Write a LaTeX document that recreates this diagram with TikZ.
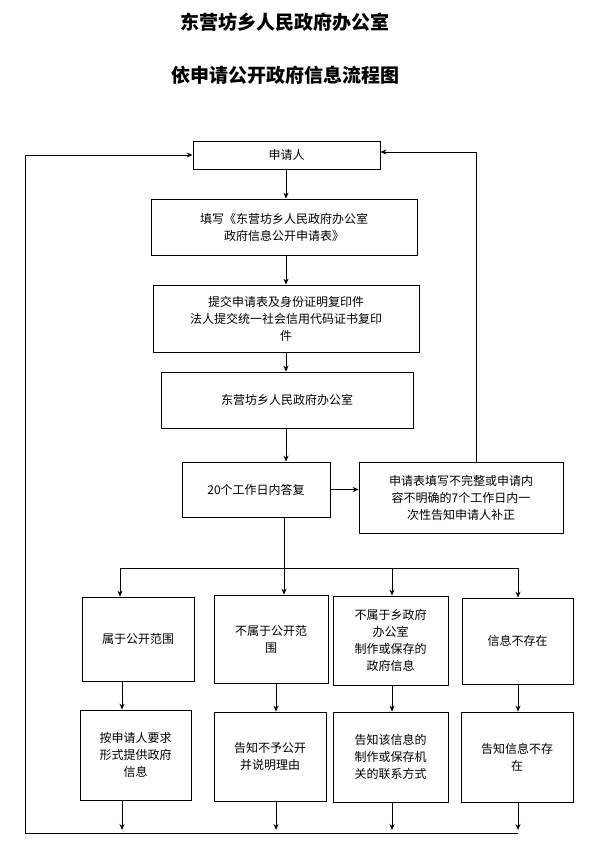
\documentclass[tikz,border=0pt]{standalone}
\usepackage{fontspec}
\newfontfamily\cjk{Noto Sans CJK SC}
\usetikzlibrary{arrows.meta}
\begin{document}
\begin{tikzpicture}[x=1pt,y=-1pt,
  box/.style={draw,thick,inner sep=0pt,align=center,font=\cjk\fontsize{12}{17}\selectfont},
  arr/.style={-{Stealth[length=6pt,width=5pt]},thick},
  ln/.style={thick}]
\useasboundingbox (0,0) rectangle (606,846);
\node[font=\cjk\bfseries\fontsize{19}{21}\selectfont] (t1) at (285,22) {东营坊乡人民政府办公室};
\node[font=\cjk\bfseries\fontsize{19}{21}\selectfont] (t2) at (285,75) {依申请公开政府信息流程图};
\newcommand\bx[6]{\node[box,minimum width={#4-#2},minimum height={#5-#3}] (#1) at ({(#2+#4)/2},{(#3+#5)/2}) {#6};}
\bx{a}{193}{141}{380}{169}{申请人}
\bx{b}{151}{199}{417}{255}{填写《东营坊乡人民政府办公室\\政府信息公开申请表》}
\bx{c}{153}{285}{419}{352}{提交申请表及身份证明复印件\\法人提交统一社会信用代码证书复印\\件}
\bx{d}{161}{372}{413}{428}{东营坊乡人民政府办公室}
\bx{e}{182}{462}{330}{517}{20个工作日内答复}
\bx{f}{359}{462}{563}{533}{申请表填写不完整或申请内\\容不明确的7个工作日内一\\次性告知申请人补正}
\bx{g1}{82}{597}{194}{681}{属于公开范围}
\bx{g2}{214}{595}{328}{683}{不属于公开范\\围}
\bx{g3}{333}{596}{448}{685}{不属于乡政府\\办公室\\制作或保存的\\政府信息}
\bx{g4}{462}{598}{573}{684}{信息不存在}
\bx{h1}{80}{710}{191}{800}{按申请人要求\\形式提供政府\\信息}
\bx{h2}{214}{712}{326}{801}{告知不予公开\\并说明理由}
\bx{h3}{333}{712}{448}{802}{告知该信息的\\制作或保存机\\关的联系方式}
\bx{h4}{461}{712}{573}{802}{告知信息不存\\在}
\coordinate (mx) at (286,0);
\draw[arr] (a.south -| mx) -- (b.north -| mx);
\draw[arr] (b.south -| mx) -- (c.north -| mx);
\draw[arr] (c.south -| mx) -- (d.north -| mx);
\draw[arr] (d.south -| mx) -- (e.north -| mx);
\draw[arr] (e.east) -- (f.west |- e.east);
\draw[arr] (f.north -| 476,0) -- (476,152) -- (a.east |- 0,152);
\coordinate (br) at (284,568);
\draw[ln] (e.south -| br) -- (br);
\draw[ln] (120,568) -- (518,568);
\draw[arr] (120,568) -- (g1.north -| 120,0);
\draw[arr] (br) -- (br |- g2.north);
\draw[arr] (392,568) -- (g3.north -| 392,0);
\draw[arr] (518,568) -- (g4.north -| 518,0);
\foreach \i/\x in {1/122,2/276,3/392,4/518} {
  \draw[arr] (g\i.south -| \x,0) -- (h\i.north -| \x,0);
  \draw[arr] (h\i.south -| \x,0) -- (\x,830);
}
\coordinate (bl) at (25,833);
\draw[ln] (bl) -- (518,833);
\draw[arr] (bl) -- (25,155) -- (a.west |- 0,155);
\end{tikzpicture}
\end{document}
